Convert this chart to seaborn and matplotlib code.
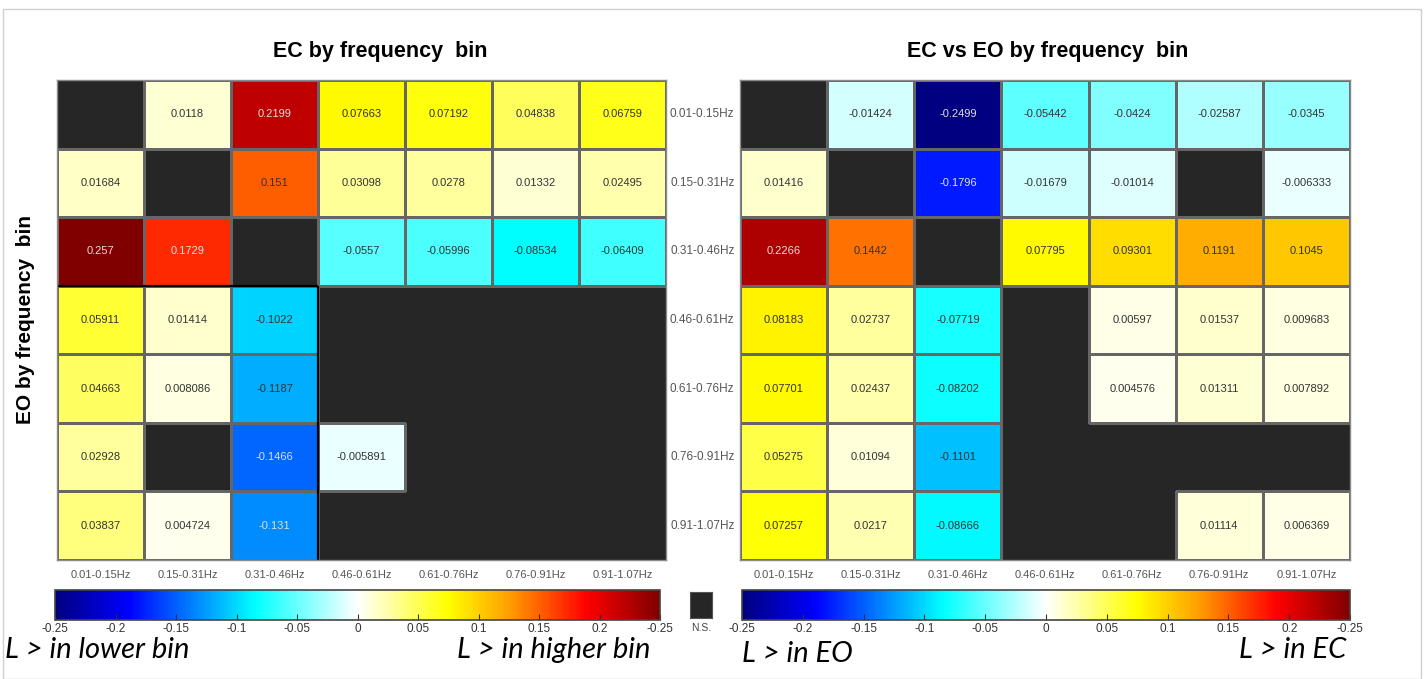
import numpy as np
import matplotlib
matplotlib.use("Agg")
import matplotlib.pyplot as plt
import seaborn as sns
from matplotlib.colors import LinearSegmentedColormap, to_rgba
from matplotlib.patches import Rectangle

nan = np.nan
bins = ["0.01-0.15Hz", "0.15-0.31Hz", "0.31-0.46Hz", "0.46-0.61Hz",
        "0.61-0.76Hz", "0.76-0.91Hz", "0.91-1.07Hz"]

ec_by_bin = [
    [nan, 0.0118, 0.2199, 0.07663, 0.07192, 0.04838, 0.06759],
    [0.01684, nan, 0.151, 0.03098, 0.0278, 0.01332, 0.02495],
    [0.257, 0.1729, nan, -0.0557, -0.05996, -0.08534, -0.06409],
    [0.05911, 0.01414, -0.1022, nan, nan, nan, nan],
    [0.04663, 0.008086, -0.1187, nan, nan, nan, nan],
    [0.02928, nan, -0.1466, -0.005891, nan, nan, nan],
    [0.03837, 0.004724, -0.131, nan, nan, nan, nan],
]
ec_vs_eo = [
    [nan, -0.01424, -0.2499, -0.05442, -0.0424, -0.02587, -0.0345],
    [0.01416, nan, -0.1796, -0.01679, -0.01014, nan, -0.006333],
    [0.2266, 0.1442, nan, 0.07795, 0.09301, 0.1191, 0.1045],
    [0.08183, 0.02737, -0.07719, nan, 0.00597, 0.01537, 0.009683],
    [0.07701, 0.02437, -0.08202, nan, 0.004576, 0.01311, 0.007892],
    [0.05275, 0.01094, -0.1101, nan, nan, nan, nan],
    [0.07257, 0.0217, -0.08666, nan, nan, 0.01114, 0.006369],
]
cbar_ticks = [-0.25, -0.2, -0.15, -0.1, -0.05, 0, 0.05, 0.1, 0.15, 0.2, 0.25]
cbar_ticklabels = ["-0.25", "-0.2", "-0.15", "-0.1", "-0.05", "0", "0.05",
                   "0.1", "0.15", "0.2", "-0.25"]

W, H = 1424, 679
fig = plt.figure(figsize=(W / 100, H / 100), dpi=100)
plt.rcParams['font.family'] = ['Liberation Sans', 'DejaVu Sans']

vmin, vmax = -0.25, 0.25
stops = [(-0.25, (0, 0, 0.5)), (-0.19, (0, 0, 1)), (-0.085, (0, 1, 1)),
         (0.0, (1, 1, 1)), (0.075, (1, 1, 0)), (0.125, (1, 0.63, 0)),
         (0.19, (1, 0, 0)), (0.25, (0.5, 0, 0))]
cmap = LinearSegmentedColormap.from_list(
    "jetwhite", [((v - vmin) / (vmax - vmin), c) for v, c in stops])

NA_COLOR = "#262626"
EDGE = "#666666"


def fa(x0, y0, x1, y1):
    return [x0 / W, 1 - y1 / H, (x1 - x0) / W, (y1 - y0) / H]


ax1 = fig.add_axes(fa(57, 80, 666, 560))
ax2 = fig.add_axes(fa(740, 80, 1350, 560))
cax1 = fig.add_axes(fa(55, 590, 660, 620))
cax2 = fig.add_axes(fa(742, 590, 1350, 620))
nsax = fig.add_axes(fa(690, 592, 712, 618))


def light_text(v):
    return v > 0.16 or v < -0.125


for ax, data, cax in [(ax1, ec_by_bin, cax1), (ax2, ec_vs_eo, cax2)]:
    arr = np.array(data, dtype=float)
    ax.set_facecolor(NA_COLOR)
    sns.heatmap(arr, ax=ax, cmap=cmap, vmin=vmin, vmax=vmax,
                annot=True, fmt=".4g", annot_kws={"size": 8},
                linewidths=0.8, linecolor=EDGE,
                cbar=True, cbar_ax=cax,
                cbar_kws={"orientation": "horizontal", "ticks": cbar_ticks},
                xticklabels=bins, yticklabels=bins)
    mesh = ax.collections[0]
    edge_rgba = to_rgba(EDGE)
    ecols = [(0, 0, 0, 0) if np.isnan(v) else edge_rgba for v in arr.ravel()]
    mesh.set_edgecolors(ecols)
    vals = arr[~np.isnan(arr)].ravel()
    for t, v in zip(ax.texts, vals):
        t.set_color("#dedede" if light_text(v) else "#333333")
    for s in ax.spines.values():
        s.set_visible(True)
        s.set_color("#8a8a8a")
        s.set_linewidth(1)
    ax.tick_params(axis="x", length=0, labelsize=8, labelcolor="#555555",
                   rotation=0, pad=7)
    ax.tick_params(axis="y", length=0)
    cb = mesh.colorbar
    cb.outline.set_edgecolor("#444444")
    cb.outline.set_linewidth(1.2)
    cax.set_xticklabels(cbar_ticklabels)
    cax.tick_params(axis="x", direction="in", length=4, width=0.8,
                    labelsize=8.5, labelcolor="#333333", color="#333333",
                    pad=2)

ax1.set_yticks([])
ax1.set_ylabel("EO by frequency  bin", fontsize=15, fontweight="bold",
               labelpad=16)
ax2.tick_params(axis="y", labelsize=8.5, labelcolor="#555555", rotation=0,
                pad=4)

# boundary lines around the empty block in the left panel
arr1 = np.array(ec_by_bin, dtype=float)
r0 = next(i for i in range(arr1.shape[0]) if np.all(np.isnan(arr1[i, 3:])))
ax1.plot([0, 3], [r0, r0], color="black", lw=1.6, solid_capstyle="butt")
ax1.plot([3, 3], [r0, arr1.shape[0]], color="black", lw=1.6,
         solid_capstyle="butt")

fig.text(380 / W, 1 - 52 / H, "EC by frequency  bin", ha="center",
         va="center", fontsize=15.5, fontweight="bold")
fig.text(1048 / W, 1 - 52 / H, "EC vs EO by frequency  bin", ha="center",
         va="center", fontsize=15.5, fontweight="bold")

nsax.set_facecolor(NA_COLOR)
nsax.set_xticks([])
nsax.set_yticks([])
for s in nsax.spines.values():
    s.set_edgecolor("#555555")
fig.text(701 / W, 1 - 628 / H, "N.S.", ha="center", va="center",
         fontsize=7.5, color="#444444")

lab = dict(fontsize=21, style="italic", family=["Lato", "DejaVu Sans"],
           va="center", color="black")
fig.text(5 / W, 1 - 650 / H, "L > in lower bin", ha="left", **lab)
fig.text(650 / W, 1 - 650 / H, "L > in higher bin", ha="right", **lab)
fig.text(742 / W, 1 - 654 / H, "L > in EO", ha="left", **lab)
fig.text(1346 / W, 1 - 650 / H, "L > in EC", ha="right", **lab)

fig.patches.append(Rectangle((3 / W, 0), 1418 / W, 1 - 9 / H,
                             transform=fig.transFigure, fill=False,
                             edgecolor="#cfcfcf", lw=1))

fig.savefig("out.png", dpi=100)
